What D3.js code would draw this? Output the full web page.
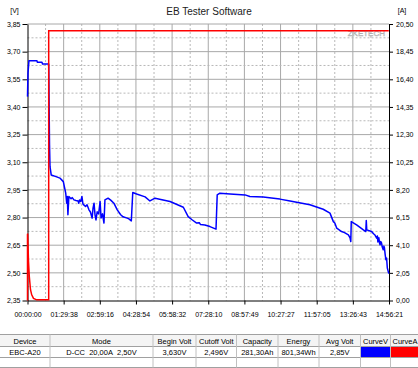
<!DOCTYPE html>
<html>
<head>
<meta charset="utf-8">
<script src="https://cdn.jsdelivr.net/npm/d3@7"></script>
<style>
html,body{margin:0;padding:0;background:#fff;}
svg{display:block;font-family:"Liberation Sans",Arial,sans-serif;}
</style>
</head>
<body>
<svg id="chart" width="418" height="368"></svg>
<script>
// ---- data ----
const totalHours = 14.9392; // 14:56:21
const xTickLabels = ["00:00:00","01:29:38","02:59:16","04:28:54","05:58:32","07:28:10","08:57:49","10:27:27","11:57:05","13:26:43","14:56:21"];
const voltTicks = [3.85,3.70,3.55,3.40,3.25,3.10,2.95,2.80,2.65,2.50,2.35];
const ampTicks = [20.50,18.45,16.40,14.35,12.30,10.25,8.20,6.15,4.10,2.05,0.00];

// voltage curve (hours, volts)
const voltTime = [0,0.02,0.06,0.39,0.41,0.60,0.62,0.876,0.91,0.93,0.98,1.18,1.34,1.48,1.58,1.62,1.645,1.67,1.71,1.80,1.85,1.92,2.00,2.09,2.12,2.15,2.20,2.25,2.29,2.35,2.40,2.46,2.54,2.60,2.67,2.71,2.75,2.79,2.83,2.88,2.94,3.00,3.04,3.10,3.16,3.20,3.33,3.45,3.57,3.71,3.85,3.95,4.12,4.19,4.29,4.35,4.51,4.86,5.06,5.27,5.89,6.44,6.64,6.80,6.99,7.10,7.15,7.33,7.54,7.79,7.84,7.95,8.37,8.99,9.19,9.74,10.43,10.85,11.67,12.22,12.50,12.64,12.70,12.78,12.98,13.10,13.26,13.33,13.36,13.38,13.60,13.88,13.98,14.00,14.02,14.22,14.30,14.36,14.43,14.46,14.48,14.52,14.55,14.57,14.60,14.63,14.66,14.70,14.73,14.75,14.78,14.81,14.84,14.87,14.93];
const voltValue = [3.456,3.584,3.651,3.651,3.642,3.642,3.633,3.633,3.194,3.076,3.031,3.022,3.014,2.995,2.932,2.878,2.914,2.815,2.914,2.902,2.908,2.896,2.893,2.890,2.878,2.895,2.887,2.914,2.874,2.866,2.860,2.869,2.842,2.830,2.797,2.853,2.878,2.815,2.787,2.831,2.820,2.887,2.798,2.820,2.770,2.896,2.905,2.893,2.878,2.842,2.815,2.804,2.797,2.793,2.782,2.936,2.928,2.912,2.890,2.905,2.887,2.856,2.805,2.788,2.770,2.772,2.762,2.760,2.751,2.737,2.923,2.932,2.928,2.923,2.914,2.911,2.900,2.890,2.869,2.845,2.824,2.778,2.770,2.742,2.724,2.718,2.706,2.690,2.670,2.778,2.760,2.733,2.724,2.784,2.733,2.724,2.712,2.705,2.688,2.700,2.668,2.690,2.660,2.652,2.670,2.663,2.640,2.625,2.645,2.636,2.600,2.571,2.580,2.526,2.496];

// current curve (hours, amps)
const ampTime = [0,0,0.008,0.041,0.074,0.124,0.174,0.248,0.38,0.876,0.876,14.93];
const ampValue = [0,4.9,4.96,2.9,1.8,0.8,0.42,0.16,0.05,0.05,20.0,20.0];

// table
const tableHeaders = ["Device","Mode","Begin Volt","Cutoff Volt","Capacity","Energy","Avg Volt","CurveV","CurveA"];
const tableRow = ["EBC-A20","D-CC\u00a0\u00a020,00A\u00a0\u00a02,50V","3,630V","2,496V","281,30Ah","801,34Wh","2,85V","",""];
const tableColors = [null,null,null,null,null,null,null,"#0000ff","#ff0000"];

// ---- layout ----
const L = 27.5, R = 389, T = 24, B = 300.5;
const svg = d3.select("#chart");
const x = d3.scaleLinear().domain([0,totalHours]).range([L,R]);
const yV = d3.scaleLinear().domain([2.35,3.85]).range([B,T]);
const yA = d3.scaleLinear().domain([0,20.5]).range([B,T]);
const fmt = d => d.toFixed(2).replace(".",",");

const xTickVals = xTickLabels.map((_,i)=> i*totalHours/10);
// grid
const grid = svg.append("g");
const xStep = totalHours/10;
for (let i=0;i<10;i++){
  const xm = x(i*xStep + xStep/2);
  grid.append("line").attr("x1",xm).attr("x2",xm).attr("y1",T).attr("y2",B)
    .attr("stroke","#b8b8b8").attr("stroke-dasharray","2,2");
}
for (let i=1;i<10;i++){
  const xv = x(i*xStep);
  grid.append("line").attr("x1",xv).attr("x2",xv).attr("y1",T).attr("y2",B)
    .attr("stroke","#a8a8a8");
}
for (let i=0;i<10;i++){
  const ym = yV(2.35 + 0.15*i + 0.075);
  grid.append("line").attr("x1",L).attr("x2",R).attr("y1",ym).attr("y2",ym)
    .attr("stroke","#b8b8b8").attr("stroke-dasharray","2,2");
}
voltTicks.forEach(v=>{
  if (v===2.35) return;
  grid.append("line").attr("x1",L).attr("x2",R).attr("y1",yV(v)).attr("y2",yV(v))
    .attr("stroke","#a8a8a8");
});

// watermark
svg.append("text").attr("x",385).attr("y",36).attr("text-anchor","end")
  .attr("font-size",8).attr("fill","#fff").attr("stroke","#b0b0b0").attr("stroke-width",0.5)
  .text("ZKETECH");

// axes
const styleAxis = g => {
  g.selectAll(".domain").attr("stroke","#000");
  g.selectAll(".tick line").attr("stroke","#000");
  g.selectAll("text").attr("font-size",7).attr("fill","#000").attr("font-family","Liberation Sans, Arial, sans-serif");
};
svg.append("g").attr("transform",`translate(${L},0)`)
  .call(d3.axisLeft(yV).tickValues(voltTicks).tickFormat(fmt).tickSize(5).tickSizeOuter(0).tickPadding(2))
  .call(styleAxis);
svg.append("g").attr("transform",`translate(${R},0)`)
  .call(d3.axisRight(yA).tickValues(ampTicks).tickFormat(fmt).tickSize(4).tickSizeOuter(0).tickPadding(3))
  .call(styleAxis);
svg.append("g").attr("transform",`translate(0,${B})`)
  .call(d3.axisBottom(x).tickValues(xTickVals).tickFormat((d,i)=>xTickLabels[i]).tickSize(4).tickSizeOuter(0).tickPadding(8))
  .call(styleAxis);

// curves
const lineV = d3.line().x((d,i)=>x(voltTime[i])).y((d,i)=>yV(voltValue[i]));
svg.append("path").attr("d",lineV(voltValue)).attr("fill","none")
  .attr("stroke","#0000ff").attr("stroke-width",1.5).attr("stroke-linejoin","round");
const lineA = d3.line().x((d,i)=>x(ampTime[i])).y((d,i)=>yA(ampValue[i]));
svg.append("path").attr("d",lineA(ampValue)).attr("fill","none")
  .attr("stroke","#ff0000").attr("stroke-width",1.5);

// titles
svg.append("text").attr("x",209).attr("y",15).attr("text-anchor","middle")
  .attr("font-size",10).attr("fill","#222").text("EB Tester Software");
svg.append("text").attr("x",14.5).attr("y",13).attr("text-anchor","middle")
  .attr("font-size",7).text("[V]");
svg.append("text").attr("x",402).attr("y",13).attr("text-anchor","middle")
  .attr("font-size",7).text("[A]");

// table
const colEdges = [0,50,153,196,236.5,278,319,360.5,390.5,418];
const rowY = [334.5,346.5,357.5,367.5];
const tbl = svg.append("g");
tbl.append("rect").attr("x",0).attr("y",rowY[0]).attr("width",418).attr("height",rowY[1]-rowY[0]).attr("fill","#f4f4f4");
tableColors.forEach((c,i)=>{
  if(!c) return;
  tbl.append("rect").attr("x",colEdges[i]+0.5).attr("y",rowY[1]+0.5)
    .attr("width",colEdges[i+1]-colEdges[i]-0.5).attr("height",rowY[2]-rowY[1]-0.5).attr("fill",c);
});
rowY.forEach(yv=>{
  tbl.append("line").attr("x1",0).attr("x2",418).attr("y1",yv).attr("y2",yv).attr("stroke","#a0a0a0");
});
colEdges.slice(1,-1).forEach(xv=>{
  tbl.append("line").attr("x1",xv).attr("x2",xv).attr("y1",rowY[0]).attr("y2",rowY[3]).attr("stroke","#c0c0c0");
});
tableHeaders.forEach((h,i)=>{
  const cx = (colEdges[i]+colEdges[i+1])/2;
  tbl.append("text").attr("x", i===8 ? colEdges[i]+2 : cx).attr("y",344)
    .attr("text-anchor", i===8 ? "start" : "middle").attr("font-size",7.5).attr("fill","#000").text(h);
});
tableRow.forEach((t,i)=>{
  if(!t) return;
  const cx = (colEdges[i]+colEdges[i+1])/2;
  tbl.append("text").attr("x",cx).attr("y",355).attr("text-anchor","middle")
    .attr("font-size",7.5).attr("fill","#000").text(t);
});
</script>
</body>
</html>
